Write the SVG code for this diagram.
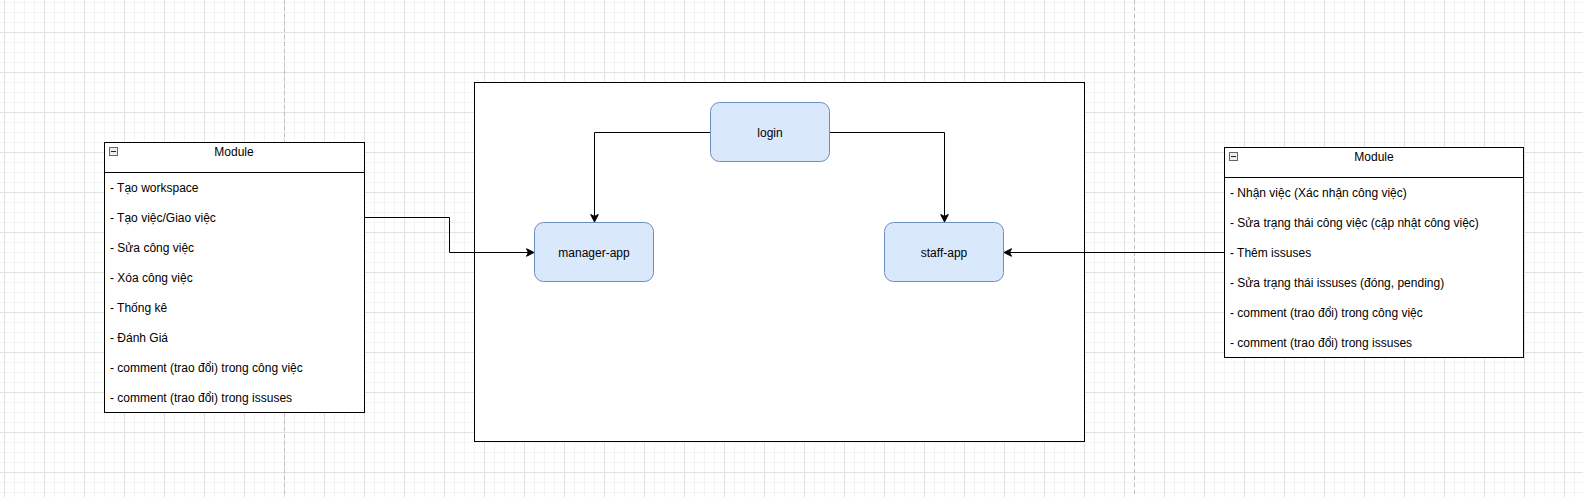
<svg xmlns="http://www.w3.org/2000/svg" width="1583" height="497" viewBox="0 0 1583 497">
  <defs>
    <pattern id="minor" patternUnits="userSpaceOnUse" x="4" y="2" width="10" height="10">
      <path d="M0.5,0 V10 M0,0.5 H10" stroke="#f3f3f3" stroke-width="1" fill="none"/>
    </pattern>
    <pattern id="major" patternUnits="userSpaceOnUse" x="4" y="32" width="40" height="40">
      <path d="M0.5,0 V40 M0,0.5 H40" stroke="#e2e2e2" stroke-width="1" fill="none"/>
    </pattern>
    <marker id="arrow" viewBox="-8 -5 10 10" refX="0" refY="0" markerWidth="10" markerHeight="10" markerUnits="userSpaceOnUse" orient="auto" overflow="visible">
      <path d="M0,0 L-7.5,-3.8 L-5.6,0 L-7.5,3.8 Z" fill="#000" stroke="#000" stroke-width="1"/>
    </marker>
  </defs>
  <style>
    text { font-family: "Liberation Sans", Arial, Helvetica, sans-serif; font-size: 12px; fill: #000; }
    .box { fill: #ffffff; stroke: #000; stroke-width: 1; }
    .node { fill: #dae8fc; stroke: #6c8ebf; stroke-width: 1; }
    .edge { fill: none; stroke: #000; stroke-width: 1; }
    .page { stroke: #c0c0c0; stroke-width: 1; stroke-dasharray: 4 3; }
    .mid { text-anchor: middle; }
  </style>

  <rect width="1583" height="497" fill="#ffffff"/>
  <rect width="1583" height="497" fill="url(#minor)"/>
  <rect width="1583" height="497" fill="url(#major)"/>
  <line class="page" x1="284.5" y1="0" x2="284.5" y2="497"/>
  <line class="page" x1="1134.5" y1="0" x2="1134.5" y2="497"/>

  <g id="container">
    <rect class="box" x="474.5" y="82.5" width="610" height="359"/>
  </g>

  <g id="module-left">
    <rect class="box" x="104.5" y="142.5" width="260" height="270"/>
    <line x1="104.5" y1="172.5" x2="364.5" y2="172.5" stroke="#000"/>
    <rect x="109.5" y="147.5" width="8" height="8" fill="#eeeeee" stroke="#666"/>
    <line x1="111" y1="151.5" x2="116" y2="151.5" stroke="#222"/>
    <text class="mid" x="234" y="156">Module</text>
    <text x="110" y="192">- Tạo workspace</text>
    <text x="110" y="222">- Tạo việc/Giao việc</text>
    <text x="110" y="252">- Sửa công việc</text>
    <text x="110" y="282">- Xóa công việc</text>
    <text x="110" y="312">- Thống kê</text>
    <text x="110" y="342">- Đánh Giá</text>
    <text x="110" y="372">- comment (trao đổi) trong công việc</text>
    <text x="110" y="402">- comment (trao đổi) trong issuses</text>
  </g>

  <g id="module-right">
    <rect class="box" x="1224.5" y="147.5" width="299" height="210"/>
    <line x1="1224.5" y1="177.5" x2="1523.5" y2="177.5" stroke="#000"/>
    <rect x="1229.5" y="152.5" width="8" height="8" fill="#eeeeee" stroke="#666"/>
    <line x1="1231" y1="156.5" x2="1236" y2="156.5" stroke="#222"/>
    <text class="mid" x="1374" y="161">Module</text>
    <text x="1230" y="197">- Nhận việc (Xác nhận công việc)</text>
    <text x="1230" y="227">- Sửa trạng thái công việc (cập nhật công việc)</text>
    <text x="1230" y="257">- Thêm issuses</text>
    <text x="1230" y="287">- Sửa trạng thái issuses (đóng, pending)</text>
    <text x="1230" y="317">- comment (trao đổi) trong công việc</text>
    <text x="1230" y="347">- comment (trao đổi) trong issuses</text>
  </g>

  <g id="login">
    <rect class="node" x="710.5" y="102.5" width="119" height="59" rx="9" ry="9"/>
    <text class="mid" x="770" y="137">login</text>
  </g>

  <g id="manager-app">
    <rect class="node" x="534.5" y="222.5" width="119" height="59" rx="9" ry="9"/>
    <text class="mid" x="594" y="257">manager-app</text>
  </g>

  <g id="staff-app">
    <rect class="node" x="884.5" y="222.5" width="119" height="59" rx="9" ry="9"/>
    <text class="mid" x="944" y="257">staff-app</text>
  </g>

  <g id="connectors">
    <path class="edge" d="M710,132.5 H594.5 V222" marker-end="url(#arrow)"/>
    <path class="edge" d="M830,132.5 H944.5 V222" marker-end="url(#arrow)"/>
    <path class="edge" d="M365,217.5 H449.5 V252.5 H534" marker-end="url(#arrow)"/>
    <path class="edge" d="M1224,252.5 H1004" marker-end="url(#arrow)"/>
  </g>
</svg>
